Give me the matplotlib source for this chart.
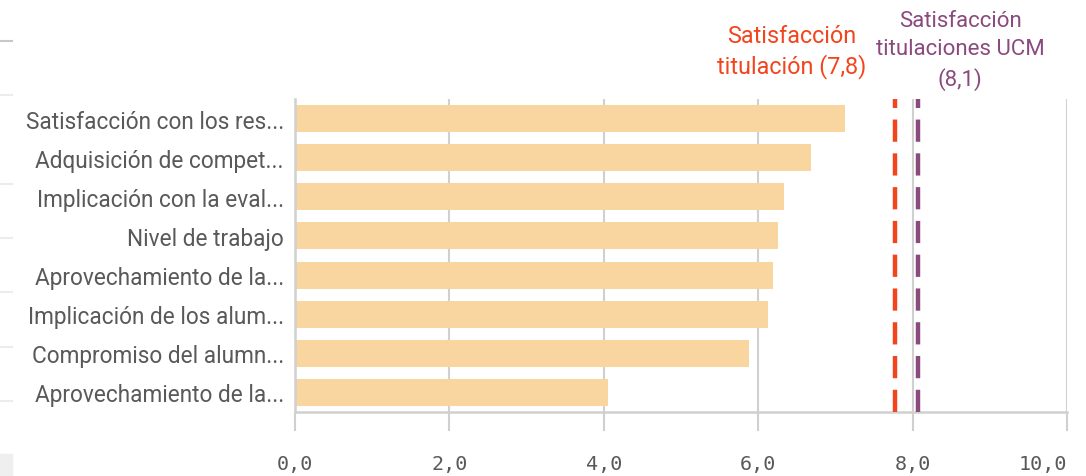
import matplotlib.pyplot as plt
from matplotlib.lines import Line2D
from matplotlib.patches import Rectangle

# Data
categories = [
    "Satisfacción con los res...",
    "Adquisición de compet...",
    "Implicación con la eval...",
    "Nivel de trabajo",
    "Aprovechamiento de la...",
    "Implicación de los alum...",
    "Compromiso del alumn...",
    "Aprovechamiento de la...",
]
values = [7.13, 6.68, 6.34, 6.26, 6.19, 6.13, 5.88, 4.05]
ref_titulacion = 7.77
ref_ucm = 8.07
xticks = [0, 2, 4, 6, 8, 10]
xticklabels = ["0,0", "2,0", "4,0", "6,0", "8,0", "10,0"]

W, H = 1086, 477
fig = plt.figure(figsize=(W / 100, H / 100), dpi=100)
ax = fig.add_axes([295 / W, 1 - 413 / H, (1067 - 295) / W, (413 - 100) / H])

grid_c = "#d0d0d0"
text_c = "#595959"
red = "#f2451d"
purple = "#8b4a7d"

y = list(range(len(categories)))
ax.barh(y, values, height=0.69, color="#f9d6a0", zorder=2)
ax.set_ylim(len(categories) - 0.5, -0.5)
ax.set_xlim(0, 10)

ax.axvline(ref_titulacion, color=red, lw=3.2, dashes=(5, 2.6), zorder=3)
ax.axvline(ref_ucm, color=purple, lw=3.2, dashes=(5, 2.6), zorder=3)

ax.set_yticks(y)
ax.set_yticklabels(categories, fontsize=16.3, color=text_c, family="Roboto")
ax.tick_params(axis="y", length=0, pad=8)

ax.set_xticks(xticks)
ax.set_xticklabels(xticklabels, fontsize=14.5, color=text_c, family="DejaVu Sans Mono")
ax.get_xticklabels()[-1].set_ha("right")
ax.tick_params(axis="x", length=14, width=1.5, color=grid_c, pad=16)
ax.grid(axis="x", color=grid_c, lw=1.5, zorder=1)

for s in ["top", "right"]:
    ax.spines[s].set_visible(False)
for s in ["left", "bottom"]:
    ax.spines[s].set_color(grid_c)
    ax.spines[s].set_linewidth(1.8)

# reference line labels
fig.text(792 / W, 1 - 52 / H, "Satisfacción\ntitulación (7,8)", ha="center", va="center",
         color=red, fontsize=16.8, family="Roboto", linespacing=1.35)
fig.text(960 / W, 1 - 51 / H, "Satisfacción\ntitulaciones UCM\n(8,1)", ha="center", va="center",
         color=purple, fontsize=16, family="Roboto", linespacing=1.45)

# faint remnants of the neighbouring panel at the left edge
for yy, c in [(42, "#c8c8c8"), (96, "#ececec"), (185, "#ececec"), (239, "#ececec"),
              (293, "#ececec"), (348, "#ececec"), (402, "#ececec")]:
    fig.add_artist(Line2D([0, 12 / W], [1 - yy / H, 1 - yy / H], color=c, lw=1.5,
                          transform=fig.transFigure))
fig.add_artist(Rectangle((0, 0), 12 / W, 22 / H, color="#efefef", transform=fig.transFigure))

fig.savefig("out.png", dpi=100)
